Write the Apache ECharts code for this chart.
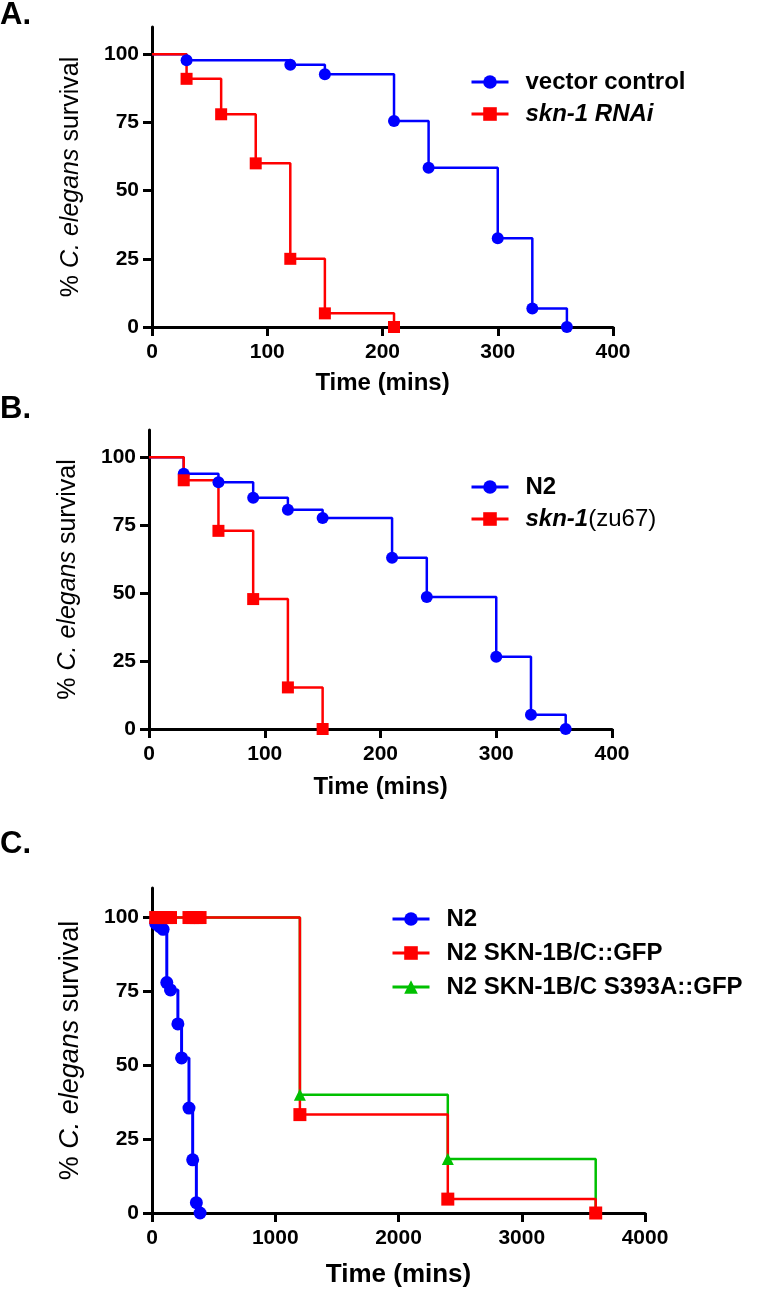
<!DOCTYPE html>
<html>
<head>
<meta charset="utf-8">
<script src="https://cdn.jsdelivr.net/npm/echarts@6/dist/echarts.min.js"></script>
<style>
html,body{margin:0;padding:0;background:#fff;}
#chart{width:780px;height:1291px;}
</style>
</head>
<body>
<div id="chart"></div>
<script>
// ---- Data ----
// Panel A
const timesA_vector = [0, 30, 120, 150, 210, 240, 300, 330, 360];
const survA_vector  = [100, 97.8, 96.2, 92.7, 75.5, 58.4, 32.5, 6.8, 0];
const timesA_rnai   = [0, 30, 60, 90, 120, 150, 210];
const survA_rnai    = [100, 91, 78, 60, 25, 5, 0];
// Panel B
const timesB_n2     = [0, 30, 60, 90, 120, 150, 210, 240, 300, 330, 360];
const survB_n2      = [100, 93.9, 90.8, 85.1, 80.7, 77.6, 63, 48.6, 26.6, 5.2, 0];
const timesB_zu67   = [0, 30, 60, 90, 120, 150];
const survB_zu67    = [100, 91.5, 72.9, 47.8, 15.3, 0];
// Panel C
const timesC_n2     = [0, 30, 60, 90, 120, 150, 210, 240, 300, 330, 360, 390];
const survC_n2      = [100, 98, 97, 96, 78, 75.5, 64, 52.5, 35.5, 18, 3.5, 0];
const timesC_gfp    = [0, 30, 60, 90, 120, 150, 300, 330, 360, 390, 1200, 2400, 3600];
const survC_gfp     = [100, 100, 100, 100, 100, 100, 100, 100, 100, 100, 33.3, 4.7, 0];
const timesC_s393a  = [0, 1200, 2400, 3600];
const survC_s393a   = [100, 40, 18.3, 0];
// Ticks
const yTicks  = [0, 25, 50, 75, 100];
const xTicksAB = [0, 100, 200, 300, 400];
const xTicksC  = [0, 1000, 2000, 3000, 4000];
// Labels
const panelLabels = ['A.', 'B.', 'C.'];
const legendA = ['vector control', 'skn-1 RNAi'];
const legendB = ['N2', 'skn-1(zu67)'];
const legendC = ['N2', 'N2 SKN-1B/C::GFP', 'N2 SKN-1B/C S393A::GFP'];

const FONT = "'Liberation Sans', Arial, Helvetica, sans-serif";
const BLUE = '#0000ff', RED = '#ff0000', GREEN = '#00c000';

function km(times, surv) {
  return times.map((t, i) => i === 0 ? { value: [t, surv[i]], symbol: 'none' } : [t, surv[i]]);
}

function xAxisDef(gi, ticks, nameGap, nameSize) {
  return {
    type: 'value', gridIndex: gi, min: ticks[0], max: ticks[ticks.length - 1], interval: ticks[1] - ticks[0],
    name: 'Time (mins)', nameLocation: 'middle', nameGap: nameGap,
    nameTextStyle: { fontFamily: FONT, fontWeight: 'bold', fontSize: nameSize, color: '#000' },
    axisLine: { show: true, onZero: false, lineStyle: { color: '#000', width: 3 } },
    axisTick: { show: true, length: 9, customValues: ticks, lineStyle: { color: '#000', width: 3 } },
    axisLabel: { fontFamily: FONT, fontWeight: 'bold', fontSize: 21, color: '#000', margin: 15,
      customValues: ticks, formatter: function (v) { return String(v); } },
    splitLine: { show: false }
  };
}
function yAxisDef(gi, nameGap, nameSize) {
  return {
    type: 'value', gridIndex: gi, min: 0, max: 110,
    name: '{n|% }{it|C. elegans}{n| survival}', nameLocation: 'middle', nameGap: nameGap, nameRotate: 90,
    nameTextStyle: {
      fontFamily: FONT, fontSize: nameSize, color: '#000',
      rich: {
        n: { fontFamily: FONT, fontSize: nameSize, color: '#000' },
        it: { fontFamily: FONT, fontSize: nameSize, fontStyle: 'italic', color: '#000' }
      }
    },
    axisLine: { show: true, onZero: false, lineStyle: { color: '#000', width: 3 } },
    axisTick: { show: true, length: 9, customValues: yTicks, lineStyle: { color: '#000', width: 3 } },
    axisLabel: { fontFamily: FONT, fontWeight: 'bold', fontSize: 21, color: '#000', margin: 13, customValues: yTicks },
    splitLine: { show: false }
  };
}
function series(name, gi, times, surv, color, symbol, size, lw) {
  return {
    name: name, type: 'line', xAxisIndex: gi, yAxisIndex: gi,
    step: 'end', data: km(times, surv), showAllSymbol: true,
    symbol: symbol, symbolSize: size, clip: false,
    lineStyle: { color: color, width: lw },
    itemStyle: { color: color },
    emphasis: { disabled: true }
  };
}
function legendDef(names, left, top, gap, display) {
  return {
    data: names, orient: 'vertical', left: left, top: top, itemGap: gap,
    itemWidth: 37, itemHeight: 17, selectedMode: false,
    lineStyle: { width: 3 },
    formatter: function (n) { return display[n]; },
    textStyle: {
      fontFamily: FONT, fontWeight: 'bold', fontSize: 24, color: '#000', padding: [0, 0, 0, 12],
      rich: {
        b: { fontFamily: FONT, fontWeight: 'bold', fontSize: 24, color: '#000' },
        bi: { fontFamily: FONT, fontWeight: 'bold', fontStyle: 'italic', fontSize: 24, color: '#000' },
        r: { fontFamily: FONT, fontWeight: 'normal', fontSize: 24, color: '#000' }
      }
    }
  };
}

const display = {
  'A_vec': '{b|' + legendA[0] + '}',
  'A_rnai': '{bi|' + legendA[1] + '}',
  'B_n2': '{b|' + legendB[0] + '}',
  'B_zu': '{bi|skn-1}{r|(zu67)}',
  'C_n2': '{b|' + legendC[0] + '}',
  'C_gfp': '{b|' + legendC[1] + '}',
  'C_s393a': '{b|' + legendC[2] + '}'
};

const option = {
  animation: false,
  backgroundColor: '#fff',
  grid: [
    { left: 152, top: 27, width: 461, height: 300 },
    { left: 149, top: 430, width: 463, height: 299 },
    { left: 152, top: 888, width: 493, height: 325 }
  ],
  xAxis: [
    xAxisDef(0, xTicksAB, 44, 24),
    xAxisDef(1, xTicksAB, 46, 24),
    xAxisDef(2, xTicksC, 49, 26)
  ],
  yAxis: [
    yAxisDef(0, 68, 25),
    yAxisDef(1, 68, 25),
    yAxisDef(2, 68, 27)
  ],
  legend: [
    legendDef(['A_vec', 'A_rnai'], 465, 65, 8, display),
    legendDef(['B_n2', 'B_zu'], 465, 470, 8, display),
    legendDef(['C_n2', 'C_gfp', 'C_s393a'], 386, 902, 10, display)
  ],
  series: [
    series('A_vec', 0, timesA_vector, survA_vector, BLUE, 'circle', 12, 2.5),
    series('A_rnai', 0, timesA_rnai, survA_rnai, RED, 'rect', 12, 2.5),
    series('B_n2', 1, timesB_n2, survB_n2, BLUE, 'circle', 12, 2.5),
    series('B_zu', 1, timesB_zu67, survB_zu67, RED, 'rect', 12, 2.5),
    series('C_n2', 2, timesC_n2, survC_n2, BLUE, 'circle', 13, 3),
    series('C_s393a', 2, timesC_s393a, survC_s393a, GREEN, 'triangle', 12, 2.5),
    series('C_gfp', 2, timesC_gfp, survC_gfp, RED, 'rect', 13, 2.5)
  ],
  graphic: [
    { type: 'text', left: 0, top: 0, style: { text: panelLabels[0], font: 'bold 31px ' + FONT, fill: '#000' } },
    { type: 'text', left: 0, top: 394, style: { text: panelLabels[1], font: 'bold 31px ' + FONT, fill: '#000' } },
    { type: 'text', left: 0, top: 829, style: { text: panelLabels[2], font: 'bold 31px ' + FONT, fill: '#000' } }
  ]
};

const chart = echarts.init(document.getElementById('chart'), null, { renderer: 'canvas' });
chart.setOption(option);
</script>
</body>
</html>
